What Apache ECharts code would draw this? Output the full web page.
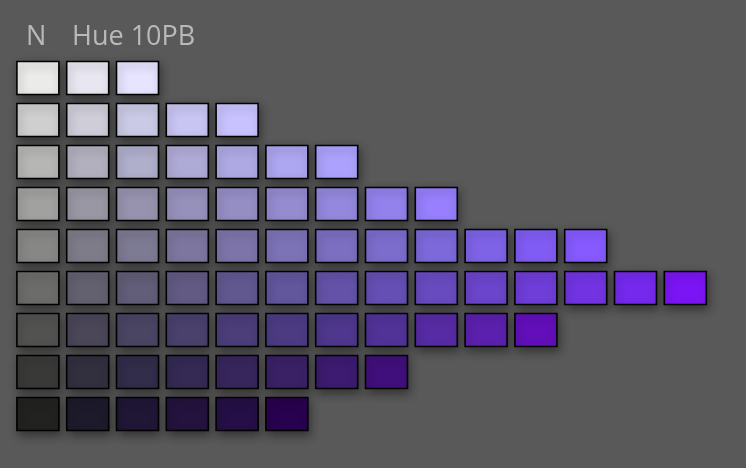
<!DOCTYPE html>
<html>
<head>
<meta charset="utf-8">
<script src="https://cdn.jsdelivr.net/npm/echarts@6/dist/echarts.min.js"></script>
<style>
html,body{margin:0;padding:0;background:#595959;}
#chart{width:746px;height:468px;}
</style>
</head>
<body>
<div id="chart"></div>
<script>
// Munsell values (rows, top to bottom) and chroma columns (N, 2, 4, ...)
const munsellValues = [9, 8, 7, 6, 5, 4, 3, 2, 1];
const chromaLabels = ['N', '2', '4', '6', '8', '10', '12', '14', '16', '18', '20', '22', '24', '26'];

// Colours of each chip per value row, from N outward in chroma
const value9 = ['#ebebe9', '#e8e6f0', '#e6e4fe'];
const value8 = ['#cfcfcf', '#cfcdd8', '#cbcae6', '#c9c5f3', '#c8c3ff'];
const value7 = ['#b6b6b5', '#b2b0be', '#afaecb', '#afabd7', '#aea9e3', '#ada6f0', '#aca2fd'];
const value6 = ['#a1a1a0', '#9897a3', '#9793ae', '#9591ba', '#958ec5', '#958bd0', '#9388dd', '#9382ec', '#977ffd'];
const value5 = ['#878785', '#7e7c88', '#7d7a93', '#7d769e', '#7d74aa', '#7c73b6', '#7c6fc1', '#7c6dcd', '#7d69da', '#7e63e7', '#805cf4', '#865aff'];
const value4 = ['#6c6c6b', '#636170', '#625d78', '#625a83', '#615890', '#62569d', '#6452a8', '#664fb4', '#684bbf', '#6b45cb', '#6f3dd7', '#7234e2', '#7529ed', '#7b15f5'];
const value3 = ['#525250', '#4b4658', '#4a4563', '#4a416d', '#4b3e79', '#4c3b83', '#4e378d', '#513398', '#572ba4', '#5c20ae', '#620fba'];
const value2 = ['#393938', '#32303f', '#312d4a', '#342a53', '#37265c', '#3a2166', '#3c1b70', '#410f7b'];
const value1 = ['#222220', '#1d1b2b', '#201636', '#23133e', '#250f46', '#29024f'];

const rowColors = [value9, value8, value7, value6, value5, value4, value3, value2, value1];

const chips = [];
rowColors.forEach((row, r) => {
  row.forEach((color, c) => {
    chips.push({ value: [c, munsellValues[r]], itemStyle: { color: color } });
  });
});

const chart = echarts.init(document.getElementById('chart'), null, { renderer: 'canvas' });
chart.setOption({
  backgroundColor: '#595959',
  animation: false,
  graphic: [
    { type: 'text', left: 26, top: 24, style: { text: 'N', fill: '#b9b9b9', font: '27px "Open Sans"' } },
    { type: 'text', left: 72, top: 24, style: { text: 'Hue 10PB', fill: '#b9b9b9', font: '27px "Open Sans"' } }
  ],
  grid: { left: 13, top: 57, width: 697.2, height: 378 },
  xAxis: { type: 'value', min: -0.5, max: 13.5, show: false },
  yAxis: { type: 'value', min: 0.5, max: 9.5, show: false },
  series: [{
    type: 'custom',
    data: chips,
    renderItem: function (params, api) {
      const center = api.coord([api.value(0), api.value(1)]);
      const unit = api.size([1, 1]);
      const w = unit[0] * 0.843;
      const h = unit[1] * 0.786;
      return {
        type: 'rect',
        shape: { x: center[0] - w / 2, y: center[1] - h / 2, width: w, height: h },
        style: {
          fill: api.visual('color'),
          stroke: '#000000',
          lineWidth: 1.6,
          shadowBlur: 9,
          shadowOffsetX: 2,
          shadowOffsetY: 4,
          shadowColor: 'rgba(0,0,0,0.4)'
        }
      };
    }
  }]
});
</script>
</body>
</html>
